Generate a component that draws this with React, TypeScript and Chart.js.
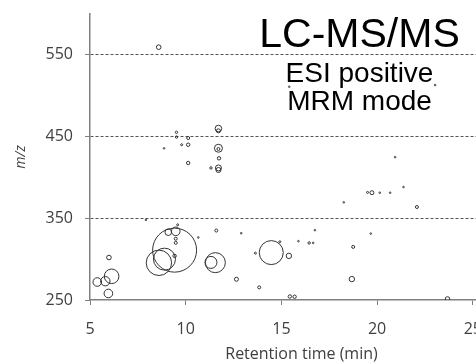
import React, { useEffect, useRef } from "react";
import { Chart, registerables } from "chart.js";

Chart.register(...registerables);

// Retention time (min)
const retentionTime = [
  5.38, 5.8, 6.13, 5.96, 5.99,
  9.42, 8.6, 8.89, 9.09, 9.48, 9.58, 9.48, 9.48, 9.42, 10.66, 7.92,
  11.32, 11.55, 11.6, 12.65, 12.9, 13.84, 13.64, 14.47, 14.92, 15.39, 15.44, 15.69,
  15.89, 16.45, 16.66, 16.75, 18.26, 18.68, 18.75, 19.5, 19.73, 20.14, 20.68, 21.38,
  22.08, 19.67, 23.68, 20.94, 15.41, 23.03,
  8.59, 9.52, 9.52, 8.87, 9.79, 10.13, 10.13, 10.13, 11.71, 11.71, 11.71, 11.71,
  11.74, 11.32, 11.71, 11.71,
];
// m/z
const mzValue = [
  272, 273, 279, 258, 302,
  311, 295.5, 300, 333, 334, 342, 325, 320, 304, 326.5, 348,
  296, 295.7, 335, 275.4, 331.7, 265.5, 307.3, 308, 321.3, 304, 254.3, 254,
  322, 319.8, 319.9, 335.4, 369.5, 275.6, 315, 381.7, 381.3, 381.3, 381.3, 388.2,
  363.8, 331.3, 251.2, 424.8, 511, 513,
  559.4, 455.2, 449.4, 435.6, 440, 440, 448.2, 417.7, 459.8, 457, 435.7, 434.8,
  423.4, 411.6, 411.6, 409.1,
];
// bubble size (peak response)
const bubbleSize = [
  4.3, 4.7, 7.3, 4.3, 2.3,
  22, 12.7, 11, 3.3, 4.3, 1, 1.5, 1.5, 1.7, 0.8, 0.8,
  6, 10, 1.5, 2, 0.8, 1.5, 1, 12, 1, 2.7, 1.7, 1.7,
  0.8, 1.2, 0.8, 0.8, 0.8, 2.7, 1.5, 1, 2, 0.8, 0.8, 0.8,
  1.5, 0.8, 2.3, 0.8, 0.8, 0.8,
  2.3, 1.2, 1.2, 0.8, 1, 1.7, 1.5, 1.7, 3.3, 2, 4, 1.5,
  1.7, 1.2, 3, 2.5,
];

const xTicks = [5, 10, 15, 20, 25];
const yTicks = [250, 350, 450, 550];
const annotationLines = ["LC-MS/MS", "ESI positive", "MRM mode"];

const textPlugin = {
  id: "annotText",
  afterDraw(chart: any) {
    const ctx = chart.ctx;
    ctx.save();
    ctx.fillStyle = "#000";
    ctx.textAlign = "center";
    ctx.textBaseline = "alphabetic";
    ctx.font = '41px "Liberation Sans", Arial, sans-serif';
    ctx.fillText(annotationLines[0], 359.5, 46.7);
    ctx.font = '28px "Liberation Sans", Arial, sans-serif';
    ctx.fillText(annotationLines[1], 359.5, 81.7);
    ctx.fillText(annotationLines[2], 359.5, 110);
    ctx.restore();
  },
};

export default function App() {
  const ref = useRef<HTMLCanvasElement>(null);
  useEffect(() => {
    const data = retentionTime.map((t, i) => ({ x: t, y: mzValue[i], r: bubbleSize[i] }));
    const chart = new Chart(ref.current!, {
      type: "bubble",
      data: {
        datasets: [
          {
            data,
            backgroundColor: "rgba(0,0,0,0)",
            borderColor: "#333",
            borderWidth: 1,
          },
        ],
      },
      options: {
        animation: false,
        responsive: false,
        layout: { autoPadding: false, padding: { top: 14, left: 0, right: 0, bottom: 0 } },
        plugins: { legend: { display: false }, tooltip: { enabled: false } },
        scales: {
          x: {
            type: "linear",
            min: 5,
            max: 27.1,
            afterBuildTicks: (s: any) => {
              s.ticks = xTicks.map((v) => ({ value: v }));
            },
            afterFit: (s: any) => {
              s.height = 64;
              s.paddingLeft = 0;
              s.paddingRight = 0;
            },
            grid: { drawOnChartArea: false, drawTicks: true, tickLength: 5, tickColor: "#808080" },
            border: { display: true, color: "#808080", width: 1.5 },
            ticks: {
              color: "#404040",
              padding: 15,
              maxRotation: 0,
              font: { family: "'Open Sans'", size: 16 },
            },
            title: {
              display: true,
              text: "Retention time (min)",
              color: "#404040",
              font: { family: "'Open Sans'", size: 16 },
              padding: { top: 0, bottom: 0 },
            },
          },
          y: {
            type: "linear",
            min: 250,
            max: 600,
            afterBuildTicks: (s: any) => {
              s.ticks = yTicks.map((v) => ({ value: v }));
            },
            afterFit: (s: any) => {
              s.width = 90;
              s.paddingTop = 0;
              s.paddingBottom = 0;
            },
            grid: {
              color: (c: any) => (c.tick && c.tick.value === 250 ? "rgba(0,0,0,0)" : "#555"),
              lineWidth: 1,
              drawTicks: true,
              tickLength: 5,
              tickColor: "#808080",
            },
            border: { display: true, color: "#808080", width: 1.5, dash: [3, 2] },
            ticks: {
              color: "#404040",
              padding: 12,
              font: { family: "'Open Sans'", size: 16 },
            },
            title: {
              display: true,
              text: "m/z",
              color: "#404040",
              font: { family: "'Open Sans'", size: 14, style: "italic" },
              padding: { top: 13, bottom: 0 },
            },
          },
        },
      },
      plugins: [textPlugin],
    });
    return () => chart.destroy();
  }, []);
  return (
    <div
      style={{
        position: "fixed",
        left: 0,
        top: 0,
        width: 476,
        height: 364,
        overflow: "hidden",
        background: "#fff",
      }}
    >
      <canvas ref={ref} width={513} height={364} style={{ display: "block" }} />
    </div>
  );
}
